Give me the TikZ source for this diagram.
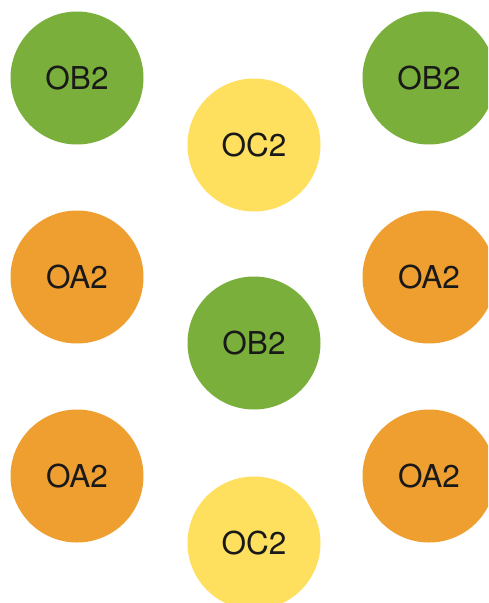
\documentclass[tikz,border=0pt]{standalone}
\usepackage{fontspec}
\setmainfont{TeX Gyre Heros}
\definecolor{cgreen}{HTML}{7AAF3C}
\definecolor{cyellow}{HTML}{FEDF5E}
\definecolor{corange}{HTML}{EE9F30}
\begin{document}
\begin{tikzpicture}[x=1pt,y=-1pt,
  ball/.style={circle,minimum size=133pt,inner sep=0pt,draw=none,
    font=\fontsize{31.5}{32}\selectfont,text=black!90},
  gball/.style={ball,fill=cgreen},
  yball/.style={ball,fill=cyellow},
  oball/.style={ball,fill=corange}]
\useasboundingbox (0,0) rectangle (488,603);
\clip (0,0) rectangle (488,603);
\fill[white] (0,0) rectangle (488,603);
\node[gball] (lb) at (77,78) {OB2};
\node[gball] (rb) at (429,78) {OB2};
\node[yball] (tc) at (254,145) {OC2};
\node[oball] (la1) at (77,277) {OA2};
\node[oball] (ra1) at (429,277) {OA2};
\node[gball] (mb) at (254,343) {OB2};
\node[oball] (la2) at (77,476) {OA2};
\node[oball] (ra2) at (429,476) {OA2};
\node[yball] (bc) at (254,543) {OC2};
\end{tikzpicture}
\end{document}
